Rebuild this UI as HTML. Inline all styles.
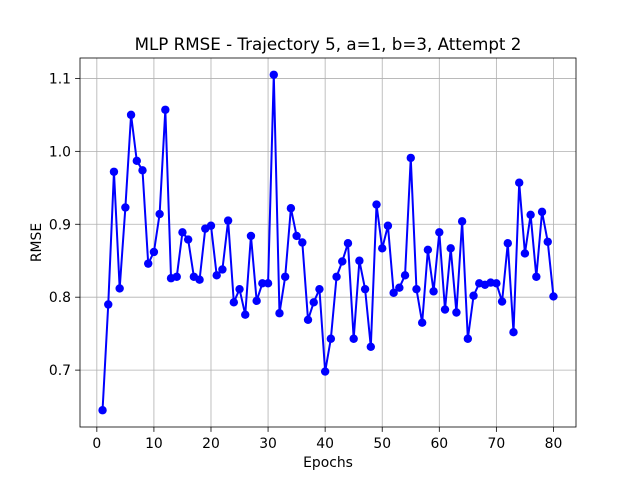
<!DOCTYPE html>
<html><head><meta charset="utf-8"><style>
html,body{margin:0;padding:0;background:#fff;}
svg{display:block;font-family:"DejaVu Sans","Liberation Sans",sans-serif;}
</style></head><body>
<svg id="chart" width="640" height="480" xmlns="http://www.w3.org/2000/svg">
<rect width="640" height="480" fill="#fff"/>
</svg>
<script>
const epochs = [];
for (let i = 1; i <= 80; i++) epochs.push(i);
const rmse = [0.645,0.790,0.972,0.812,0.923,1.050,0.987,0.974,0.846,0.862,
0.914,1.057,0.826,0.828,0.889,0.879,0.828,0.824,0.894,0.898,
0.830,0.838,0.905,0.793,0.811,0.776,0.884,0.795,0.819,0.819,
1.105,0.778,0.828,0.922,0.884,0.875,0.769,0.793,0.811,0.698,
0.743,0.828,0.849,0.874,0.743,0.850,0.811,0.732,0.927,0.867,
0.898,0.806,0.813,0.830,0.991,0.811,0.765,0.865,0.808,0.889,
0.783,0.867,0.779,0.904,0.743,0.802,0.819,0.817,0.820,0.819,
0.794,0.874,0.752,0.957,0.860,0.913,0.828,0.917,0.876,0.801];
const xTicks = [0,10,20,30,40,50,60,70,80];
const yTicks = [0.7,0.8,0.9,1.0,1.1];
const yTickLabels = ["0.7","0.8","0.9","1.0","1.1"];

const svg = document.getElementById('chart');
const NS = 'http://www.w3.org/2000/svg';
const L=80,R=576,T=58,B=427;
const xmin0=Math.min(...epochs), xmax0=Math.max(...epochs);
const ymin0=Math.min(...rmse), ymax0=Math.max(...rmse);
const xpad=(xmax0-xmin0)*0.05, ypad=(ymax0-ymin0)*0.05;
const xlo=xmin0-xpad, xhi=xmax0+xpad, ylo=ymin0-ypad, yhi=ymax0+ypad;
const sx=v=>L+(v-xlo)/(xhi-xlo)*(R-L);
const sy=v=>B-(v-ylo)/(yhi-ylo)*(B-T);
function mk(tag, attrs, text){
  const e=document.createElementNS(NS,tag);
  for(const k in attrs) e.setAttribute(k,attrs[k]);
  if(text!==undefined) e.textContent=text;
  svg.appendChild(e); return e;
}
xTicks.forEach(t=>{
  const x=sx(t);
  const g=mk('line',{x1:x,x2:x,y1:T,y2:B,stroke:'#b0b0b0','stroke-width':0.8});
  
  
  const tk=mk('line',{x1:x,x2:x,y1:B,y2:B+4.9,stroke:'#000','stroke-width':0.8});
  
  
  const lb=mk('text',{x:x,y:B+21,'font-size':13.9,'text-anchor':'middle',fill:'#000'},String(t));
  
  
});
yTicks.forEach((t,i)=>{
  const y=sy(t);
  const g=mk('line',{x1:L,x2:R,y1:y,y2:y,stroke:'#b0b0b0','stroke-width':0.8});
  
  
  const tk=mk('line',{x1:L-4.9,x2:L,y1:y,y2:y,stroke:'#000','stroke-width':0.8});
  
  
  const lb=mk('text',{x:L-9,y:y+5,'font-size':13.9,'text-anchor':'end',fill:'#000'},yTickLabels[i]);
  
  
});
const pts=epochs.map((e,i)=>sx(e).toFixed(2)+','+sy(rmse[i]).toFixed(2)).join(' ');
const pl=mk('polyline',{points:pts,fill:'none',stroke:'#0000ff','stroke-width':2});


epochs.forEach((e,i)=>{
  const c=mk('circle',{cx:sx(e),cy:sy(rmse[i]),r:4.2,fill:'#0000ff'});
  
  
});
const fr=mk('rect',{x:L,y:T,width:R-L,height:B-T,fill:'none',stroke:'#000','stroke-width':0.8});


const ti=mk('text',{x:(L+R)/2,y:50,'font-size':16.7,'text-anchor':'middle',fill:'#000'},'MLP RMSE - Trajectory 5, a=1, b=3, Attempt 2');


const xl=mk('text',{x:(L+R)/2,y:467,'font-size':13.9,'text-anchor':'middle',fill:'#000'},'Epochs');


const yl=mk('text',{x:0,y:0,'font-size':13.9,'text-anchor':'middle',fill:'#000',transform:'translate(41,'+((T+B)/2)+') rotate(-90)'},'RMSE');


</script>
</body></html>
